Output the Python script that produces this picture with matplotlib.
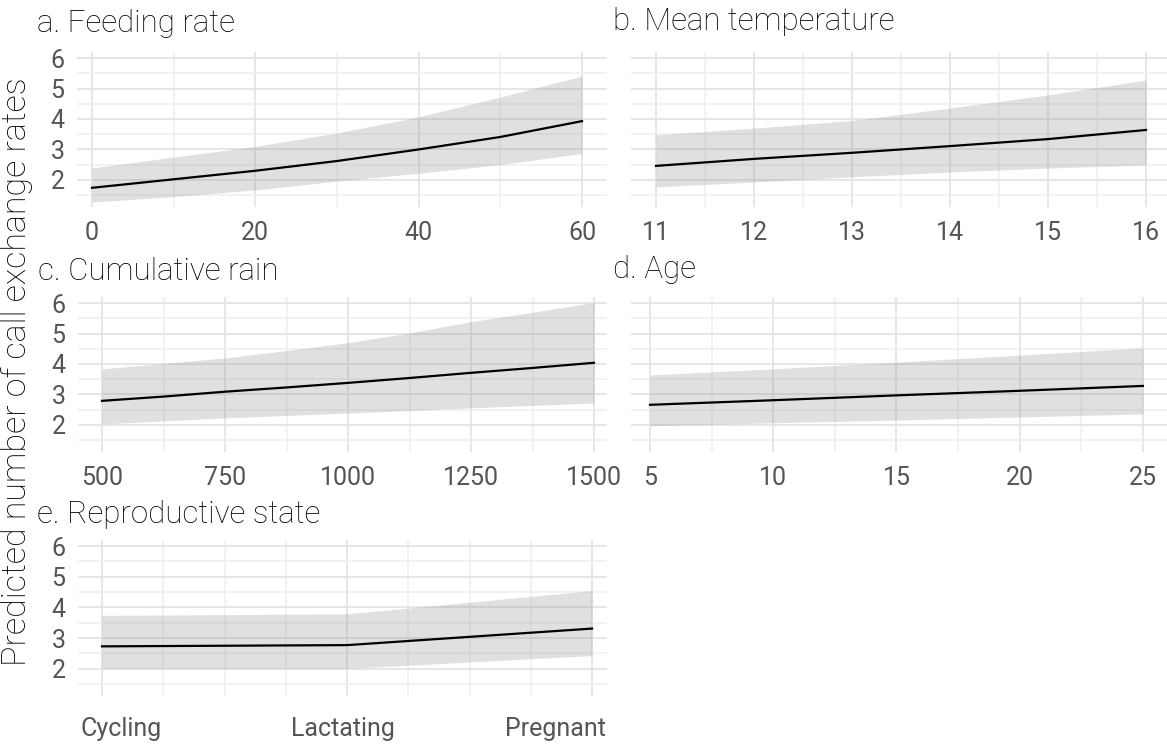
import matplotlib
matplotlib.use("Agg")
import matplotlib.pyplot as plt
from matplotlib.transforms import ScaledTranslation
import numpy as np

plt.rcParams['font.family'] = ['Roboto', 'DejaVu Sans']

# a. Feeding rate
feed_x = [0, 10, 20, 30, 40, 50, 60]
feed_fit = [1.74, 2.02, 2.30, 2.62, 3.00, 3.41, 3.93]
feed_lo = [1.27, 1.45, 1.67, 1.96, 2.22, 2.50, 2.87]
feed_hi = [2.39, 2.75, 3.10, 3.54, 4.07, 4.72, 5.41]

# b. Mean temperature
temp_x = [11, 12, 13, 14, 15, 16]
temp_fit = [2.46, 2.69, 2.89, 3.11, 3.34, 3.64]
temp_lo = [1.77, 1.93, 2.10, 2.26, 2.39, 2.49]
temp_hi = [3.48, 3.70, 3.95, 4.36, 4.79, 5.28]

# c. Cumulative rain
rain_x = [500, 625, 750, 875, 1000, 1125, 1250, 1375, 1500]
rain_fit = [2.79, 2.93, 3.09, 3.23, 3.38, 3.54, 3.71, 3.87, 4.04]
rain_lo = [2.03, 2.13, 2.23, 2.31, 2.39, 2.47, 2.56, 2.64, 2.72]
rain_hi = [3.84, 4.02, 4.20, 4.44, 4.70, 5.02, 5.39, 5.70, 6.02]

# d. Age
age_x = [5, 10, 15, 20, 25]
age_fit = [2.66, 2.81, 2.97, 3.12, 3.28]
age_lo = [1.97, 2.07, 2.16, 2.26, 2.36]
age_hi = [3.64, 3.84, 4.06, 4.29, 4.53]

# e. Reproductive state
repro_states = ["Cycling", "Lactating", "Pregnant"]
repro_fit = [2.73, 2.77, 3.31]
repro_lo = [2.01, 2.01, 2.43]
repro_hi = [3.74, 3.79, 4.55]

W, H = 1167, 749
fig = plt.figure(figsize=(W / 100, H / 100), dpi=100)
fig.patch.set_facecolor("white")


def px_axes(left, top, right, bottom):
    return fig.add_axes([left / W, 1 - bottom / H, (right - left) / W, (bottom - top) / H])


def style(ax, xlim, xmajor, xminor, show_y):
    ax.set_xlim(*xlim)
    ax.set_ylim(1.11, 6.2)
    ax.set_xticks(xmajor)
    ax.set_xticks(xminor, minor=True)
    ax.set_yticks([2, 3, 4, 5, 6])
    ax.set_yticks([1.5, 2.5, 3.5, 4.5, 5.5], minor=True)
    ax.grid(True, which="major", color="#E4E4E4", lw=1.3)
    ax.grid(True, which="minor", color="#EFEFEF", lw=1.1)
    ax.set_axisbelow(True)
    for s in ax.spines.values():
        s.set_visible(False)
    ax.tick_params(which="both", length=0, labelsize=18, labelcolor="#555555")
    ax.tick_params(axis="x", pad=10)
    ax.tick_params(axis="y", pad=9)
    if not show_y:
        ax.set_yticklabels([])


def band(ax, x, fit, lo, hi):
    ax.fill_between(x, lo, hi, color="#999999", alpha=0.3, lw=0)
    ax.plot(x, fit, color="black", lw=1.6)


ax_a = px_axes(77, 52, 607, 207)
band(ax_a, feed_x, feed_fit, feed_lo, feed_hi)
style(ax_a, (-1.84, 63.06), [0, 20, 40, 60], np.arange(0, 61, 10), True)

ax_b = px_axes(631, 52, 1167, 207)
band(ax_b, temp_x, temp_fit, temp_lo, temp_hi)
style(ax_b, (10.745, 16.214), [11, 12, 13, 14, 15, 16], np.arange(11, 16.01, 0.5), False)

ax_c = px_axes(78, 297, 607, 452)
band(ax_c, rain_x, rain_fit, rain_lo, rain_hi)
style(ax_c, (451.2, 1526.4), [500, 750, 1000, 1250, 1500], np.arange(500, 1501, 125), True)

ax_d = px_axes(631, 297, 1167, 452)
band(ax_d, age_x, age_fit, age_lo, age_hi)
style(ax_d, (4.228, 25.976), [5, 10, 15, 20, 25], np.arange(5, 25.01, 2.5), False)

ax_e = px_axes(78, 540, 607, 696)
repro_pos = np.arange(1, len(repro_states) + 1)
band(ax_e, repro_pos, repro_fit, repro_lo, repro_hi)
style(ax_e, (0.902, 3.061), repro_pos, np.arange(1, 3.01, 0.25), True)
ax_e.set_xticklabels(repro_states)
ax_e.tick_params(axis="x", pad=15)
# the category labels sit a bit off their gridlines in the original
for lab, dx in zip(ax_e.get_xticklabels(), [19, -4, -37]):
    lab.set_transform(lab.get_transform() + ScaledTranslation(dx / 100, 0, fig.dpi_scale_trans))

# panel titles (baseline positions in pixels)
titles = [("a. Feeding rate", 37, 32), ("b. Mean temperature", 613, 30),
          ("c. Cumulative rain", 38, 280), ("d. Age", 613, 278),
          ("e. Reproductive state", 37, 523)]
for txt, xp, yp in titles:
    fig.text(xp / W, 1 - yp / H, txt, fontsize=22.5, color="black",
             ha="left", va="baseline", fontweight="light")

fig.text(17 / W, 1 - 372 / H, "Predicted number of call exchange rates",
         rotation=90, ha="center", va="center", fontsize=24.5,
         color="black", fontweight="light")

fig.savefig("out.png", dpi=100, facecolor="white")
